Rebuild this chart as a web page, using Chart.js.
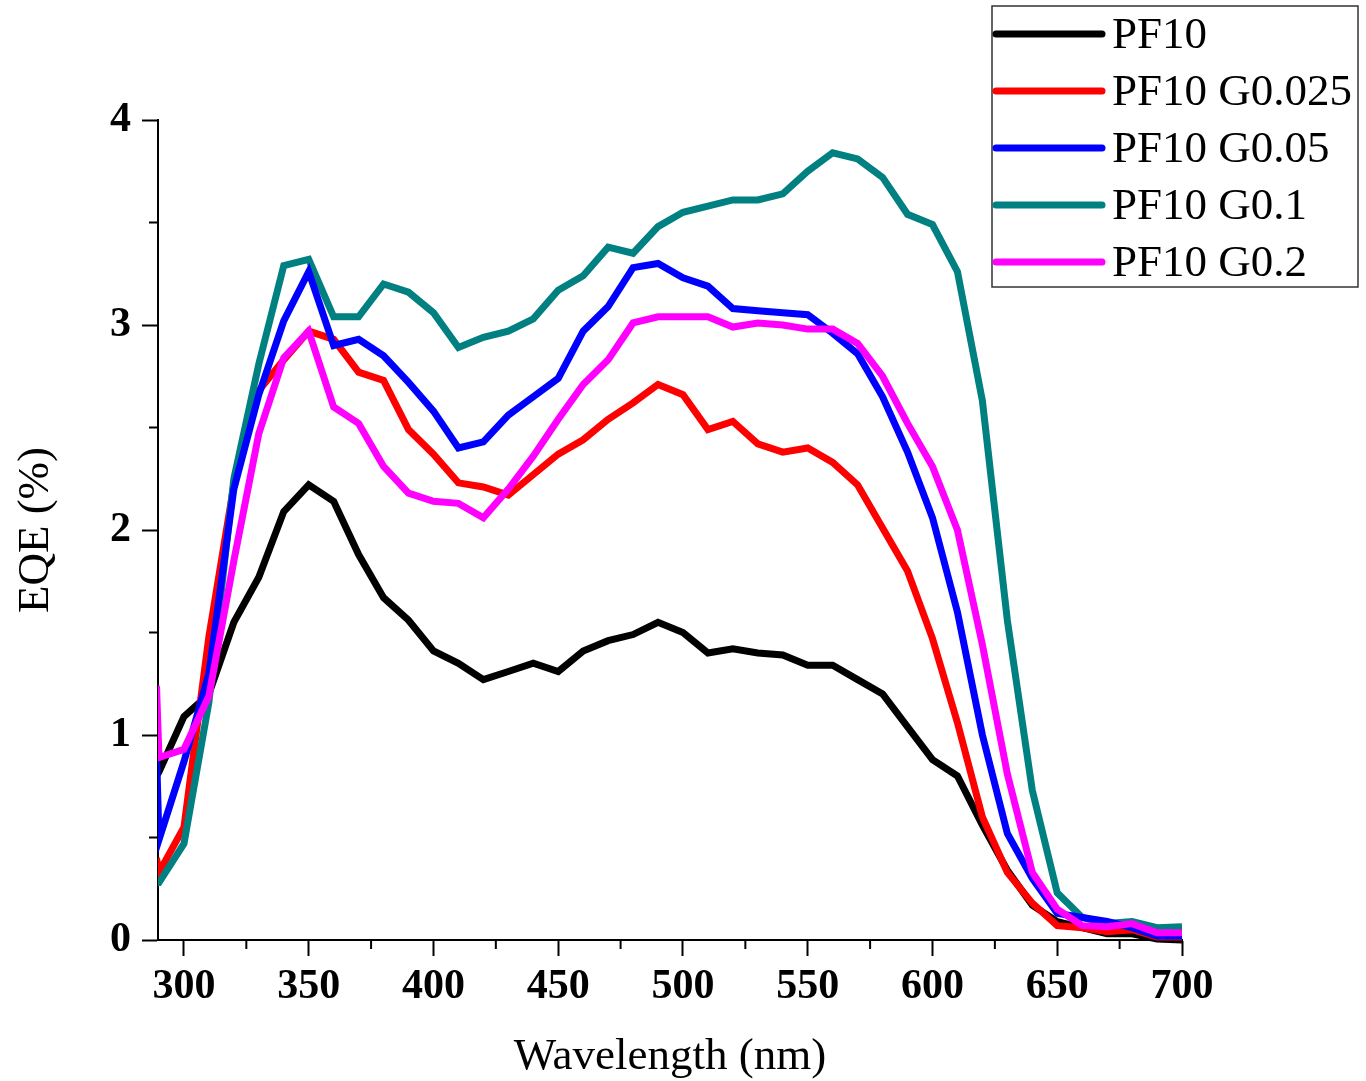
<!DOCTYPE html>
<html>
<head>
<meta charset="utf-8">
<script src="https://cdn.jsdelivr.net/npm/chart.js@4.4.1/dist/chart.umd.min.js"></script>
<style>
  html, body { margin: 0; padding: 0; background: #fff; }
  #wrap { width: 1366px; height: 1081px; }
</style>
</head>
<body>
<div id="wrap"><canvas id="eqeChart" width="1366" height="1081"></canvas></div>
<script>
// wavelength in nm (first point sits just left of the axis and gets clipped)
const wavelength = [289, 290, 300, 310, 320, 330, 340, 350, 360, 370, 380, 390, 400, 410, 420, 430, 440, 450, 460, 470, 480, 490, 500,
  510, 520, 530, 540, 550, 560, 570, 580, 590, 600, 610, 620, 630, 640, 650, 660, 670, 680, 690, 700];

// EQE (%) for each sample
const pf10 = [0.80, 0.82, 1.09, 1.20, 1.55, 1.77, 2.09, 2.22, 2.14, 1.88, 1.67, 1.56, 1.41, 1.35, 1.27, 1.31, 1.35, 1.31, 1.41, 1.46, 1.49, 1.55, 1.50,
  1.40, 1.42, 1.40, 1.39, 1.34, 1.34, 1.27, 1.20, 1.04, 0.88, 0.80, 0.56, 0.34, 0.17, 0.09, 0.06, 0.03, 0.03, 0.005, 0.0];
const pf10G0025 = [0.40, 0.33, 0.55, 1.48, 2.22, 2.68, 2.83, 2.97, 2.93, 2.77, 2.73, 2.49, 2.37, 2.23, 2.21, 2.17, 2.27, 2.37, 2.44, 2.54, 2.62, 2.71, 2.66,
  2.49, 2.53, 2.42, 2.38, 2.40, 2.33, 2.22, 2.01, 1.80, 1.47, 1.06, 0.60, 0.33, 0.18, 0.07, 0.06, 0.04, 0.05, 0.015, 0.015];
const pf10G005 = [0.92, 0.49, 0.87, 1.30, 2.20, 2.66, 3.02, 3.26, 2.90, 2.93, 2.85, 2.72, 2.58, 2.40, 2.43, 2.56, 2.65, 2.74, 2.97, 3.09, 3.28, 3.30, 3.23,
  3.19, 3.08, 3.07, 3.06, 3.05, 2.96, 2.86, 2.65, 2.38, 2.06, 1.60, 1.00, 0.52, 0.30, 0.13, 0.11, 0.09, 0.06, 0.02, 0.02];
const pf10G01 = [0.28, 0.28, 0.47, 1.16, 2.25, 2.81, 3.29, 3.32, 3.04, 3.04, 3.20, 3.16, 3.06, 2.89, 2.94, 2.97, 3.03, 3.17, 3.24, 3.38, 3.35, 3.48, 3.55,
  3.58, 3.61, 3.61, 3.64, 3.75, 3.84, 3.81, 3.72, 3.54, 3.49, 3.26, 2.63, 1.56, 0.73, 0.23, 0.11, 0.08, 0.09, 0.06, 0.065];
const pf10G02 = [1.24, 0.89, 0.93, 1.19, 1.85, 2.47, 2.84, 2.97, 2.60, 2.52, 2.31, 2.18, 2.14, 2.13, 2.06, 2.20, 2.36, 2.54, 2.71, 2.83, 3.01, 3.04, 3.04,
  3.04, 2.99, 3.01, 3.00, 2.98, 2.98, 2.91, 2.75, 2.52, 2.31, 2.00, 1.44, 0.81, 0.33, 0.15, 0.07, 0.065, 0.08, 0.035, 0.035];

const seriesLabels = ['PF10', 'PF10 G0.025', 'PF10 G0.05', 'PF10 G0.1', 'PF10 G0.2'];
const seriesValues = [pf10, pf10G0025, pf10G005, pf10G01, pf10G02];
const seriesColors = ['#000000', '#ff0000', '#0000ff', '#008080', '#ff00ff'];
const drawOrder = [5, 4, 2, 3, 1];

const xMinorTicks = [325, 375, 425, 475, 525, 575, 625, 675];
const yMinorTicks = [0.5, 1.5, 2.5, 3.5];

const serif = '"Liberation Serif", "Times New Roman", serif';

// small minor tick marks, placed through the scales
const minorTicks = {
  id: 'minorTicks',
  afterDraw(chart) {
    const ctx = chart.ctx;
    const xs = chart.scales.x, ys = chart.scales.y;
    ctx.save();
    ctx.strokeStyle = '#000';
    ctx.lineWidth = 2;
    ctx.beginPath();
    xMinorTicks.forEach(v => {
      const px = xs.getPixelForValue(v);
      ctx.moveTo(px, ys.bottom);
      ctx.lineTo(px, ys.bottom + 9);
    });
    yMinorTicks.forEach(v => {
      const py = ys.getPixelForValue(v);
      ctx.moveTo(xs.left, py);
      ctx.lineTo(xs.left - 9, py);
    });
    ctx.stroke();
    ctx.restore();
  }
};

// boxed legend in the top right corner
const boxLegend = {
  id: 'boxLegend',
  afterDraw(chart) {
    const ctx = chart.ctx;
    ctx.save();
    ctx.strokeStyle = '#333';
    ctx.lineWidth = 1.5;
    ctx.strokeRect(992, 6, 366, 281);
    ctx.font = '45px ' + serif;
    ctx.textBaseline = 'middle';
    ctx.fillStyle = '#000';
    seriesLabels.forEach((lab, i) => {
      const y = 34 + i * 57;
      ctx.strokeStyle = seriesColors[i];
      ctx.lineWidth = 7;
      ctx.lineCap = 'round';
      ctx.beginPath();
      ctx.moveTo(996, y);
      ctx.lineTo(1102, y);
      ctx.stroke();
      ctx.fillText(lab, 1112, y + 2);
    });
    ctx.restore();
  }
};

const ctx = document.getElementById('eqeChart');

new Chart(ctx, {
  type: 'line',
  data: {
    datasets: seriesLabels.map((lab, i) => ({
      label: lab,
      data: wavelength.map((w, j) => ({ x: w, y: seriesValues[i][j] })),
      borderColor: seriesColors[i],
      backgroundColor: seriesColors[i],
      borderWidth: 7,
      pointRadius: 0,
      tension: 0,
      order: drawOrder[i],
      clip: { left: 0, top: 4, right: 4, bottom: 4 }
    }))
  },
  options: {
    responsive: false,
    animation: false,
    layout: { padding: { top: 120, right: 184, left: 0, bottom: 0 } },
    plugins: {
      legend: { display: false },
      tooltip: { enabled: false }
    },
    scales: {
      x: {
        type: 'linear',
        min: 289.6,
        max: 700,
        afterFit(scale) { scale.height = 141; },
        border: { display: true, color: '#000', width: 2 },
        grid: { drawOnChartArea: false, drawTicks: true, tickLength: 16, tickWidth: 2, tickColor: '#000' },
        ticks: {
          stepSize: 50,
          includeBounds: false,
          padding: 6,
          color: '#000',
          maxRotation: 0,
          font: { family: serif, size: 42, weight: 'bold' }
        },
        title: {
          display: true,
          text: 'Wavelength (nm)',
          color: '#000',
          padding: { top: 0, bottom: 0 },
          font: { family: serif, size: 45, lineHeight: 1.08 }
        }
      },
      y: {
        min: 0,
        max: 4,
        afterFit(scale) { scale.width = 158; },
        border: { display: true, color: '#000', width: 2 },
        grid: { drawOnChartArea: false, drawTicks: true, tickLength: 16, tickWidth: 2, tickColor: '#000' },
        ticks: {
          stepSize: 1,
          padding: 11,
          color: '#000',
          font: { family: serif, size: 42, weight: 'bold' }
        },
        title: {
          display: true,
          text: 'EQE (%)',
          color: '#000',
          padding: { top: 9, bottom: 0 },
          font: { family: serif, size: 45 }
        }
      }
    }
  },
  plugins: [minorTicks, boxLegend]
});
</script>
</body>
</html>
